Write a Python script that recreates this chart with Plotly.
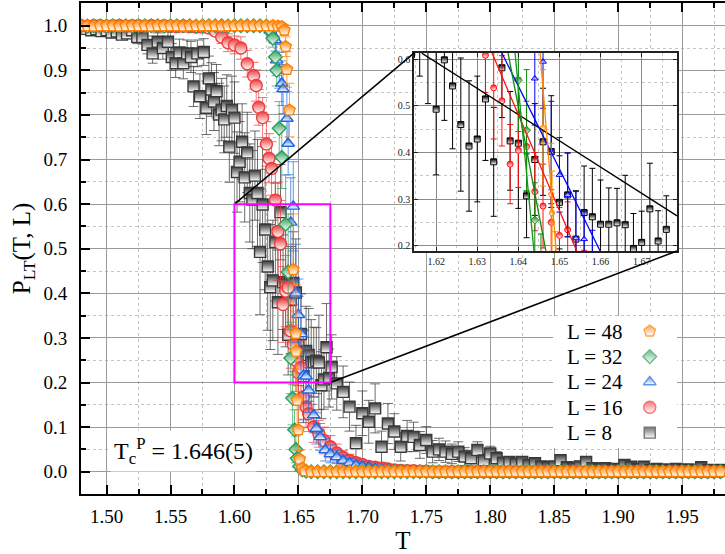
import plotly.graph_objects as go

# ---------------- data ----------------
T_LEFT = [1.480, 1.485, 1.490, 1.495, 1.500, 1.505, 1.510, 1.515, 1.520, 1.525,
          1.530, 1.535, 1.540, 1.545, 1.550, 1.555, 1.560, 1.565, 1.570, 1.575,
          1.580, 1.585, 1.590, 1.595, 1.600, 1.605, 1.610, 1.615]
T_RIGHT = [1.680, 1.685, 1.690, 1.695, 1.700, 1.705, 1.710, 1.715, 1.720, 1.725,
           1.730, 1.735, 1.740, 1.745, 1.750, 1.755, 1.760, 1.765, 1.770, 1.775,
           1.780, 1.785, 1.790, 1.795, 1.800, 1.805, 1.810, 1.815, 1.820, 1.825,
           1.830, 1.835, 1.840, 1.845, 1.850, 1.855, 1.860, 1.865, 1.870, 1.875,
           1.880, 1.885, 1.890, 1.895, 1.900, 1.905, 1.910, 1.915, 1.920, 1.925,
           1.930, 1.935, 1.940, 1.945, 1.950, 1.955, 1.960, 1.965, 1.970, 1.975,
           1.980]

# L = 48
P48_LEFT = [1.000, 1.000, 0.999, 1.000, 1.000, 1.000, 0.999, 1.000, 1.000, 1.000,
            1.000, 0.999, 1.000, 1.000, 1.000, 1.000, 0.999, 1.000, 1.000, 1.000,
            1.000, 1.000, 0.999, 1.000, 1.000, 1.000, 1.000, 1.000]
E48_LEFT = [0.002, 0.002, 0.003, 0.002, 0.002, 0.002, 0.003, 0.002, 0.002, 0.002,
            0.002, 0.003, 0.002, 0.002, 0.002, 0.002, 0.003, 0.002, 0.002, 0.002,
            0.002, 0.002, 0.003, 0.002, 0.002, 0.002, 0.002, 0.002]
T48_MID = [1.620, 1.625, 1.630, 1.634, 1.637, 1.639, 1.640, 1.641, 1.643, 1.646,
           1.648, 1.6482, 1.649, 1.650, 1.651, 1.653, 1.655, 1.660, 1.665, 1.670, 1.675]
P48_MID = [1.000, 1.000, 1.000, 0.999, 0.998, 0.990, 0.953, 0.902, 0.811, 0.453,
           0.310, 0.270, 0.160, 0.094, 0.028, 0.008, 0.002, 0.000, 0.000, 0.000, 0.000]
E48_MID = [0.002, 0.002, 0.003, 0.004, 0.006, 0.012, 0.022, 0.040, 0.060, 0.125,
           0.110, 0.090, 0.070, 0.045, 0.020, 0.006, 0.002, 0.001, 0.001, 0.001, 0.001]
P48_RIGHT = [0, 0, 0, 0, 0, 0, 0, 0, 0, 0, 0, 0, 0, 0, 0, 0, 0, 0, 0, 0,
             0, 0, 0, 0, 0, 0, 0, 0, 0, 0, 0, 0, 0, 0, 0, 0, 0, 0, 0, 0,
             0, 0, 0, 0, 0, 0, 0, 0, 0, 0, 0, 0, 0, 0, 0, 0, 0, 0, 0, 0, 0]
E48_RIGHT = [0.001, 0.001, 0.001, 0.001, 0.001, 0.001, 0.001, 0.001, 0.001, 0.001,
             0.001, 0.001, 0.001, 0.001, 0.001, 0.001, 0.001, 0.001, 0.001, 0.001,
             0.001, 0.001, 0.001, 0.001, 0.001, 0.001, 0.001, 0.001, 0.001, 0.001,
             0.001, 0.001, 0.001, 0.001, 0.001, 0.001, 0.001, 0.001, 0.001, 0.001,
             0.001, 0.001, 0.001, 0.001, 0.001, 0.001, 0.001, 0.001, 0.001, 0.001,
             0.001, 0.001, 0.001, 0.001, 0.001, 0.001, 0.001, 0.001, 0.001, 0.001, 0.001]

# L = 32
P32_LEFT = [1.000, 0.999, 1.000, 1.000, 0.999, 1.000, 1.000, 1.000, 0.999, 1.000,
            1.000, 1.000, 1.000, 0.999, 1.000, 1.000, 1.000, 1.000, 0.999, 1.000,
            1.000, 1.000, 1.000, 0.999, 1.000, 1.000, 1.000, 1.000]
E32_LEFT = [0.002, 0.003, 0.002, 0.002, 0.003, 0.002, 0.002, 0.002, 0.003, 0.002,
            0.002, 0.002, 0.002, 0.003, 0.002, 0.002, 0.002, 0.002, 0.003, 0.002,
            0.002, 0.002, 0.002, 0.003, 0.002, 0.002, 0.002, 0.002]
T32_MID = [1.620, 1.625, 1.628, 1.630, 1.632, 1.633, 1.635, 1.637, 1.640, 1.642,
           1.644, 1.6455, 1.647, 1.648, 1.649, 1.651, 1.653, 1.656, 1.660, 1.665,
           1.670, 1.675]
P32_MID = [1.000, 0.999, 0.990, 0.972, 0.930, 0.900, 0.770, 0.705, 0.555, 0.448,
           0.255, 0.165, 0.094, 0.050, 0.030, 0.012, 0.004, 0.001, 0.000, 0.000,
           0.000, 0.000]
E32_MID = [0.003, 0.005, 0.010, 0.020, 0.030, 0.035, 0.060, 0.070, 0.110, 0.130,
           0.080, 0.060, 0.045, 0.030, 0.020, 0.010, 0.004, 0.002, 0.001, 0.001,
           0.001, 0.001]
P32_RIGHT = [0, 0, 0, 0, 0, 0, 0, 0, 0, 0, 0, 0, 0, 0, 0, 0, 0, 0, 0, 0,
             0, 0, 0, 0, 0, 0, 0, 0, 0, 0, 0, 0, 0, 0, 0, 0, 0, 0, 0, 0,
             0, 0, 0, 0, 0, 0, 0, 0, 0, 0, 0, 0, 0, 0, 0, 0, 0, 0, 0, 0, 0]
E32_RIGHT = E48_RIGHT

# L = 24
P24_LEFT = [1.000, 1.000, 1.000, 0.999, 1.000, 1.000, 1.000, 1.000, 1.000, 0.999,
            1.000, 1.000, 1.000, 1.000, 1.000, 0.999, 1.000, 1.000, 1.000, 1.000,
            0.999, 1.000, 1.000, 1.000, 0.999, 1.000, 0.999, 0.998]
E24_LEFT = [0.002, 0.002, 0.002, 0.003, 0.002, 0.002, 0.002, 0.002, 0.002, 0.003,
            0.002, 0.002, 0.002, 0.002, 0.002, 0.003, 0.002, 0.002, 0.002, 0.002,
            0.003, 0.002, 0.002, 0.002, 0.003, 0.003, 0.003, 0.004]
T24_MID = [1.620, 1.625, 1.628, 1.630, 1.632, 1.633, 1.635, 1.637, 1.638, 1.641,
           1.642, 1.644, 1.646, 1.648, 1.650, 1.652, 1.654, 1.656, 1.658, 1.662,
           1.664, 1.667, 1.671, 1.675]
P24_MID = [0.999, 0.997, 0.990, 0.980, 0.968, 0.923, 0.900, 0.871, 0.858, 0.792,
           0.736, 0.559, 0.595, 0.400, 0.352, 0.309, 0.216, 0.214, 0.183, 0.127,
           0.097, 0.078, 0.049, 0.040]
E24_MID = [0.003, 0.005, 0.010, 0.015, 0.025, 0.035, 0.040, 0.050, 0.055, 0.060,
           0.070, 0.100, 0.100, 0.110, 0.080, 0.090, 0.100, 0.060, 0.050, 0.040,
           0.035, 0.030, 0.025, 0.020]
P24_RIGHT = [0.033, 0.025, 0.020, 0.015, 0.012, 0.010, 0.007, 0.005, 0.004, 0.003,
             0.002, 0.001, 0.001, 0, 0, 0, 0, 0, 0, 0,
             0, 0, 0, 0, 0, 0, 0, 0, 0, 0, 0, 0, 0, 0, 0, 0, 0, 0, 0, 0,
             0, 0, 0, 0, 0, 0, 0, 0, 0, 0, 0, 0, 0, 0, 0, 0, 0, 0, 0, 0, 0]
E24_RIGHT = [0.015, 0.012, 0.010, 0.008, 0.007, 0.006, 0.005, 0.004, 0.003, 0.002,
             0.002, 0.001, 0.001, 0.001, 0.001, 0.001, 0.001, 0.001, 0.001, 0.001,
             0.001, 0.001, 0.001, 0.001, 0.001, 0.001, 0.001, 0.001, 0.001, 0.001,
             0.001, 0.001, 0.001, 0.001, 0.001, 0.001, 0.001, 0.001, 0.001, 0.001,
             0.001, 0.001, 0.001, 0.001, 0.001, 0.001, 0.001, 0.001, 0.001, 0.001,
             0.001, 0.001, 0.001, 0.001, 0.001, 0.001, 0.001, 0.001, 0.001, 0.001, 0.001]

# L = 16
P16_LEFT = [1.000, 0.999, 1.000, 1.000, 0.999, 1.000, 1.000, 0.999, 1.000, 1.000,
            0.999, 1.000, 0.999, 1.000, 0.999, 0.998, 0.999, 0.998, 0.997, 0.997,
            0.995, 0.988, 0.975, 0.962, 0.957, 0.950, 0.915, 0.888]
E16_LEFT = [0.002, 0.002, 0.002, 0.002, 0.003, 0.002, 0.003, 0.003, 0.003, 0.003,
            0.003, 0.003, 0.004, 0.004, 0.004, 0.005, 0.005, 0.005, 0.006, 0.006,
            0.008, 0.010, 0.015, 0.020, 0.020, 0.025, 0.030, 0.030]
T16_MID = [1.617, 1.619, 1.622, 1.625, 1.627, 1.629, 1.632, 1.634, 1.636, 1.638,
           1.640, 1.642, 1.644, 1.646, 1.648, 1.650, 1.652, 1.654, 1.656, 1.658,
           1.662, 1.666, 1.670, 1.675]
P16_MID = [0.866, 0.817, 0.794, 0.735, 0.703, 0.680, 0.609, 0.539, 0.511, 0.375,
           0.405, 0.413, 0.316, 0.285, 0.250, 0.222, 0.234, 0.168, 0.145, 0.130,
           0.101, 0.085, 0.070, 0.056]
E16_MID = [0.035, 0.040, 0.045, 0.050, 0.055, 0.060, 0.080, 0.110, 0.097, 0.085,
           0.080, 0.097, 0.084, 0.090, 0.070, 0.060, 0.060, 0.050, 0.045, 0.040,
           0.035, 0.030, 0.030, 0.025]
P16_RIGHT = [0.042, 0.032, 0.025, 0.020, 0.016, 0.012, 0.010, 0.008, 0.006, 0.004,
             0.003, 0.002, 0.002, 0.001, 0.001, 0, 0, 0, 0, 0,
             0, 0, 0, 0, 0, 0, 0, 0, 0, 0, 0, 0, 0, 0, 0, 0, 0, 0, 0, 0,
             0, 0, 0, 0, 0, 0, 0, 0, 0, 0, 0, 0, 0, 0, 0, 0, 0, 0, 0, 0, 0]
E16_RIGHT = [0.020, 0.016, 0.014, 0.012, 0.010, 0.008, 0.007, 0.006, 0.005, 0.004,
             0.003, 0.002, 0.002, 0.001, 0.001, 0.001, 0.001, 0.001, 0.001, 0.001,
             0.001, 0.001, 0.001, 0.001, 0.001, 0.001, 0.001, 0.001, 0.001, 0.001,
             0.001, 0.001, 0.001, 0.001, 0.001, 0.001, 0.001, 0.001, 0.001, 0.001,
             0.001, 0.001, 0.001, 0.001, 0.001, 0.001, 0.001, 0.001, 0.001, 0.001,
             0.001, 0.001, 0.001, 0.001, 0.001, 0.001, 0.001, 0.001, 0.001, 0.001, 0.001]

# L = 8
T8_LEFT = [1.480, 1.484, 1.488, 1.492, 1.496, 1.500, 1.504, 1.508, 1.512, 1.516,
           1.520, 1.524, 1.528, 1.532, 1.536, 1.540, 1.544, 1.548, 1.551, 1.554,
           1.557, 1.560, 1.563, 1.566, 1.568, 1.571, 1.573, 1.576, 1.578, 1.580,
           1.582, 1.584, 1.586, 1.588, 1.590, 1.592, 1.594, 1.596, 1.598, 1.600,
           1.602, 1.604, 1.606, 1.608, 1.610, 1.612, 1.614, 1.616, 1.618]
P8_LEFT = [0.995, 0.993, 0.990, 0.992, 0.988, 0.990, 0.985, 0.987, 0.980, 0.983,
           0.990, 0.975, 0.975, 0.957, 0.938, 0.964, 0.950, 0.964, 0.930, 0.916,
           0.940, 0.916, 0.938, 0.930, 0.864, 0.938, 0.842, 0.941, 0.816, 0.882,
           0.857, 0.830, 0.853, 0.801, 0.812, 0.790, 0.820, 0.729, 0.812, 0.794,
           0.672, 0.695, 0.740, 0.660, 0.716, 0.625, 0.610, 0.664, 0.625]
E8_LEFT = [0.006, 0.006, 0.007, 0.007, 0.008, 0.008, 0.009, 0.010, 0.010, 0.012,
           0.012, 0.015, 0.016, 0.020, 0.022, 0.020, 0.025, 0.022, 0.030, 0.032,
           0.030, 0.035, 0.030, 0.035, 0.045, 0.030, 0.050, 0.030, 0.060, 0.050,
           0.060, 0.065, 0.060, 0.070, 0.070, 0.075, 0.070, 0.080, 0.075, 0.080,
           0.090, 0.090, 0.085, 0.100, 0.090, 0.110, 0.110, 0.100, 0.120]
T8_MID = [1.620, 1.622, 1.624, 1.626, 1.628, 1.630, 1.632, 1.634, 1.636, 1.638,
          1.640, 1.642, 1.644, 1.646, 1.648, 1.650, 1.652, 1.654, 1.656, 1.658,
          1.660, 1.662, 1.664, 1.666, 1.668, 1.670, 1.672, 1.674, 1.676]
P8_MID = [0.493, 0.599, 0.543, 0.460, 0.414, 0.429, 0.515, 0.380, 0.582, 0.425,
          0.420, 0.307, 0.385, 0.423, 0.402, 0.293, 0.309, 0.214, 0.271, 0.262,
          0.246, 0.246, 0.249, 0.245, 0.194, 0.207, 0.279, 0.210, 0.235]
E8_MID = [0.141, 0.130, 0.135, 0.143, 0.140, 0.135, 0.132, 0.117, 0.107, 0.106,
          0.140, 0.090, 0.120, 0.115, 0.120, 0.100, 0.090, 0.104, 0.100, 0.104,
          0.095, 0.078, 0.074, 0.106, 0.075, 0.067, 0.098, 0.065, 0.072]
P8_RIGHT = [0.198, 0.179, 0.146, 0.064, 0.131, 0.112, 0.142, 0.056, 0.108, 0.090,
            0.056, 0.080, 0.078, 0.060, 0.071, 0.045, 0.050, 0.045, 0.040, 0.045,
            0.034, 0.030, 0.049, 0.025, 0.041, 0.030, 0.020, 0.022, 0.018, 0.022,
            0.015, 0.019, 0.012, 0.010, 0.012, 0.026, 0.010, 0.008, 0.012, 0.022,
            0.008, 0.006, 0.008, 0.005, 0.006, 0.015, 0.011, 0.006, 0.011, 0.004,
            0.006, 0.005, 0.003, 0.006, 0.004, 0.005, 0.003, 0.010, 0.004, 0.003,
            0.004]
E8_RIGHT = [0.060, 0.058, 0.055, 0.040, 0.050, 0.048, 0.055, 0.035, 0.045, 0.040,
            0.032, 0.035, 0.033, 0.030, 0.030, 0.025, 0.025, 0.024, 0.022, 0.022,
            0.020, 0.018, 0.018, 0.016, 0.016, 0.015, 0.012, 0.012, 0.011, 0.011,
            0.010, 0.010, 0.009, 0.008, 0.008, 0.010, 0.007, 0.006, 0.007, 0.009,
            0.006, 0.005, 0.006, 0.005, 0.005, 0.007, 0.006, 0.005, 0.006, 0.004,
            0.005, 0.004, 0.004, 0.005, 0.004, 0.004, 0.003, 0.006, 0.004, 0.003,
            0.004]

# linear fits shown in the inset (start / end points)
FIT_NAMES = ["L = 8", "L = 16", "L = 24", "L = 32", "L = 32", "L = 48"]
FIT_T_START = [1.6165, 1.6336, 1.6360, 1.6375, 1.6392, 1.6453]
FIT_P_START = [0.6135, 0.6135, 0.6135, 0.6135, 0.6135, 0.6135]
FIT_T_END = [1.6786, 1.6542, 1.6599, 1.6467, 1.6438, 1.6492]
FIT_P_END = [0.2640, 0.1886, 0.1886, 0.1886, 0.1886, 0.1886]
FIT_COLORS = ["#000000", "#FF1010", "#0000FF", "#108A10", "#109A10", "#FF8C00"]

# legend rows (bottom to top) and key position
LEGEND_LABELS = ["L = 8", "L = 16", "L = 24", "L = 32", "L = 48"]
LEGEND_KEY_X = [0, 0, 0, 0, 0]

ZOOM_T = [1.600, 1.675]
ZOOM_P = [0.2, 0.6]
TC_TEXT = "T<sub>c</sub><sup>P</sup> = 1.646(5)"

# ---------------- styling ----------------
FONT = "Liberation Serif, Times New Roman, Times, serif"
XR = [1.48, 1.9836]
YR = [-0.05, 1.051]
IN_XR = [1.6146, 1.6786]
IN_YR = [0.1886, 0.6135]
IN_DX = [0.517, 0.9255]
IN_DY = [0.495, 0.898]
LEG_DX = [0.733, 0.9255]
LEG_DY = [0.094, 0.3625]

series = [
    # name, T, P, E, symbol, color, error colour, inset colour, size
    ("L = 8", T8_LEFT + T8_MID + T_RIGHT, P8_LEFT + P8_MID + P8_RIGHT,
     E8_LEFT + E8_MID + E8_RIGHT, "square", "#383838", "rgba(60,60,60,0.75)", "#000000", 11),
    ("L = 16", T_LEFT + T16_MID + T_RIGHT, P16_LEFT + P16_MID + P16_RIGHT,
     E16_LEFT + E16_MID + E16_RIGHT, "circle", "#EE3B3B", "rgba(238,59,59,0.7)", "#FF1010", 12),
    ("L = 24", T_LEFT + T24_MID + T_RIGHT, P24_LEFT + P24_MID + P24_RIGHT,
     E24_LEFT + E24_MID + E24_RIGHT, "triangle-up", "#1F66E0", "rgba(31,102,224,0.7)", "#0000FF", 11),
    ("L = 32", T_LEFT + T32_MID + T_RIGHT, P32_LEFT + P32_MID + P32_RIGHT,
     E32_LEFT + E32_MID + E32_RIGHT, "diamond", "#2E9E5B", "rgba(46,158,91,0.7)", "#108A10", 10.5),
    ("L = 48", T_LEFT + T48_MID + T_RIGHT, P48_LEFT + P48_MID + P48_RIGHT,
     E48_LEFT + E48_MID + E48_RIGHT, "pentagon", "#FF8000", "rgba(255,128,0,0.75)", "#FF8C00", 12),
]

fig = go.Figure()
for name, T, P, E, sym, col, ecol, icol, size in series:
    fig.add_trace(go.Scatter(
        x=T, y=P, mode="markers", name=name, showlegend=False,
        error_y=dict(type="data", array=E, color=ecol, thickness=1, width=5),
        marker=dict(symbol=sym, size=size, color=col,
                    line=dict(color=col, width=1.4),
                    gradient=dict(type="vertical", color="white")),
    ))

for name, T, P, E, sym, col, ecol, icol, size in series:
    fig.add_trace(go.Scatter(
        x=T, y=P, mode="markers", name=name, showlegend=False,
        xaxis="x2", yaxis="y2",
        error_y=dict(type="data", array=E, color=icol, thickness=1, width=3),
        marker=dict(symbol=sym, size=6, color=icol,
                    line=dict(color=icol, width=1),
                    gradient=dict(type="vertical", color="white")),
    ))

for i in range(len(FIT_NAMES)):
    fig.add_trace(go.Scatter(
        x=[FIT_T_START[i], FIT_T_END[i]], y=[FIT_P_START[i], FIT_P_END[i]],
        mode="lines", name=FIT_NAMES[i] + " fit", showlegend=False,
        xaxis="x2", yaxis="y2", line=dict(color=FIT_COLORS[i], width=1.3),
    ))

# legend drawn as a small category subplot: label text left, symbol right
leg_by_name = {s[0]: s for s in series}
fig.add_trace(go.Scatter(
    x=LEGEND_KEY_X, y=LEGEND_LABELS, mode="markers", name="legend",
    showlegend=False, xaxis="x3", yaxis="y3", hoverinfo="skip",
    marker=dict(symbol=[leg_by_name[n][4] for n in LEGEND_LABELS],
                size=[leg_by_name[n][8] for n in LEGEND_LABELS],
                color=[leg_by_name[n][5] for n in LEGEND_LABELS],
                line=dict(color=[leg_by_name[n][5] for n in LEGEND_LABELS], width=1.4),
                gradient=dict(type="vertical", color="white")),
))


def to_main(fx, fy):
    return (XR[0] + fx * (XR[1] - XR[0]), YR[0] + fy * (YR[1] - YR[0]))


c1 = to_main(IN_DX[0], IN_DY[1])
c2 = to_main(IN_DX[1], IN_DY[0])
fig.add_shape(type="line", xref="x", yref="y", x0=ZOOM_T[0], y0=ZOOM_P[1],
              x1=c1[0], y1=c1[1], line=dict(color="black", width=1.5))
fig.add_shape(type="line", xref="x", yref="y", x0=ZOOM_T[1], y0=ZOOM_P[0],
              x1=c2[0], y1=c2[1], line=dict(color="black", width=1.5))
fig.add_shape(type="rect", xref="x", yref="y", x0=ZOOM_T[0], x1=ZOOM_T[1],
              y0=ZOOM_P[0], y1=ZOOM_P[1], line=dict(color="#FF00FF", width=2))

fig.add_annotation(xref="paper", yref="paper", x=0.045, y=0.088,
                   xanchor="left", yanchor="middle", text=TC_TEXT, showarrow=False,
                   bgcolor="white", borderpad=3,
                   font=dict(family=FONT, size=24, color="black"))

grid_major = "#9a9a9a"
grid_minor = "#c4c4c4"
fig.update_layout(
    width=725, height=554,
    margin=dict(l=81, r=0, t=3, b=60),
    paper_bgcolor="white", plot_bgcolor="white",
    font=dict(family=FONT, color="black"),
    showlegend=False,
    xaxis=dict(range=XR, tick0=1.5, dtick=0.05, tickformat=".2f",
               ticks="inside", ticklen=9, tickwidth=2, tickcolor="black",
               showline=True, linecolor="black", linewidth=2, mirror="allticks",
               showgrid=True, gridcolor=grid_major, gridwidth=1, zeroline=False,
               tickfont=dict(family=FONT, size=19, color="black"),
               ticklabelstandoff=4,
               minor=dict(dtick=0.025, ticks="inside", ticklen=5, tickcolor="black",
                          showgrid=True, gridcolor=grid_minor, griddash="dot"),
               title=dict(text="T", font=dict(family=FONT, size=25), standoff=6)),
    yaxis=dict(range=YR, tick0=0, dtick=0.1, tickformat=".1f",
               ticks="inside", ticklen=9, tickwidth=2, tickcolor="black",
               showline=True, linecolor="black", linewidth=2, mirror=False,
               showgrid=True, gridcolor=grid_major, gridwidth=1, zeroline=False,
               tickfont=dict(family=FONT, size=19, color="black"),
               ticklabelstandoff=8,
               minor=dict(dtick=0.05, ticks="inside", ticklen=5, tickcolor="black",
                          showgrid=True, gridcolor=grid_minor, griddash="dot"),
               title=dict(text="P<sub>LT</sub>(T, L)", font=dict(family=FONT, size=25),
                          standoff=6)),
    xaxis2=dict(domain=IN_DX, anchor="y2", range=IN_XR, tick0=1.62, dtick=0.01,
                tickformat=".2f", ticks="inside", ticklen=4, tickcolor="#222",
                showline=True, linecolor="#222", linewidth=1.5, mirror="allticks",
                showgrid=True, gridcolor="#8a8a8a", zeroline=False,
                tickfont=dict(family=FONT, size=10, color="#222"),
                minor=dict(dtick=0.005, showgrid=True, gridcolor="#c8c8c8", griddash="dot")),
    yaxis2=dict(domain=IN_DY, anchor="x2", range=IN_YR, tick0=0.2, dtick=0.1,
                tickformat=".1f", ticks="inside", ticklen=4, tickcolor="#222",
                showline=True, linecolor="#222", linewidth=1.5, mirror="allticks",
                showgrid=True, gridcolor="#8a8a8a", zeroline=False,
                tickfont=dict(family=FONT, size=10, color="#222"),
                minor=dict(dtick=0.05, showgrid=True, gridcolor="#c8c8c8", griddash="dot")),
    xaxis3=dict(domain=LEG_DX, anchor="y3", range=[-0.78, 0.22], visible=False,
                fixedrange=True),
    yaxis3=dict(domain=LEG_DY, anchor="x3", type="category", categoryorder="array",
                categoryarray=LEGEND_LABELS, range=[-0.6, 4.6],
                showgrid=False, zeroline=False, showline=False, ticks="",
                ticklabelposition="inside", ticklabelstandoff=11, fixedrange=True,
                tickfont=dict(family=FONT, size=21, color="black")),
)

fig.write_html("out.html")
